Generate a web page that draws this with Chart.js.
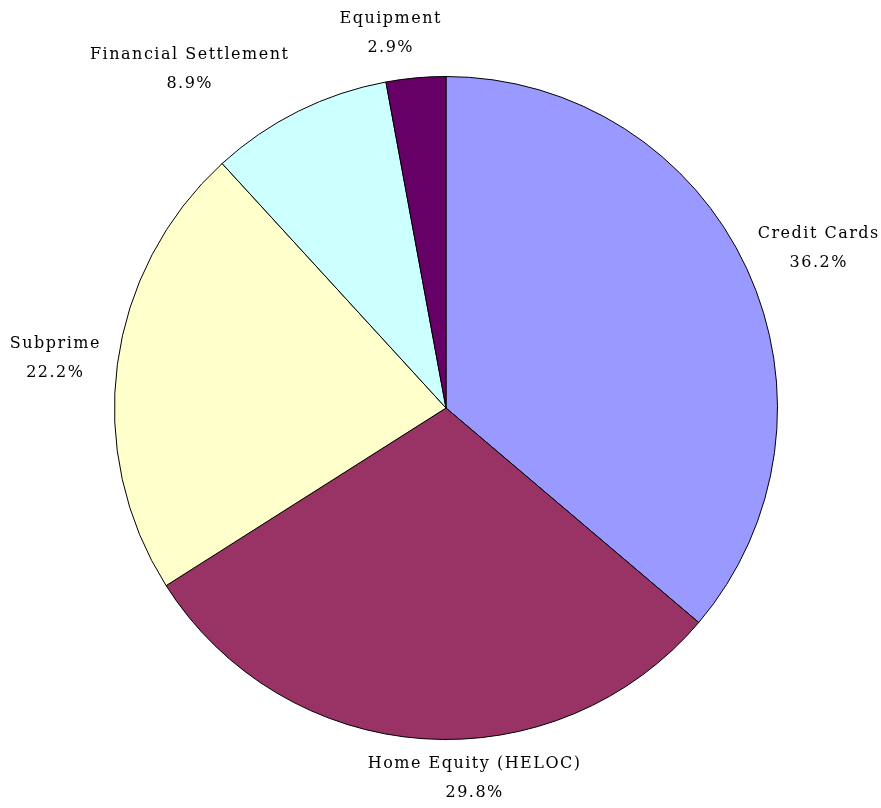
<!DOCTYPE html>
<html>
<head>
<meta charset="utf-8">
<script src="https://cdn.jsdelivr.net/npm/chart.js@4.4.0/dist/chart.umd.min.js"></script>
<style>
  html, body { margin: 0; padding: 0; background: #ffffff; }
  #wrap { width: 881px; height: 808px; position: relative; }
</style>
</head>
<body>
<div id="wrap"><canvas id="pie"></canvas></div>
<script>
// 数据
const categories = ['Credit Cards', 'Home Equity (HELOC)', 'Subprime', 'Financial Settlement', 'Equipment'];
const shares = [36.2, 29.8, 22.2, 8.9, 2.9];
const pctLabels = ['36.2%', '29.8%', '22.2%', '8.9%', '2.9%'];
const sliceColors = ['#9999FF', '#993366', '#FFFFCC', '#CCFFFF', '#660066'];

// 外侧标签 (名称 + 百分比)
const outsideLabels = {
  id: 'outsideLabels',
  afterDatasetsDraw(chart, args, opts) {
    const ctx = chart.ctx;
    const meta = chart.getDatasetMeta(0);
    const nudge = opts.nudge || [];
    ctx.save();
    ctx.font = '16px "DejaVu Serif", serif';
    ctx.letterSpacing = '1.5px';
    ctx.fillStyle = '#000000';
    ctx.textAlign = 'center';
    ctx.textBaseline = 'middle';
    const lineH = 29;
    meta.data.forEach((arc, i) => {
      const p = arc.getProps(['x', 'y', 'startAngle', 'endAngle', 'outerRadius'], true);
      const mid = (p.startAngle + p.endAngle) / 2;
      const dx = Math.cos(mid);
      const dy = Math.sin(mid);
      const r = p.outerRadius + 16;
      const ax = p.x + dx * r;
      const ay = p.y + dy * r;
      const w = Math.max(ctx.measureText(categories[i]).width, ctx.measureText(pctLabels[i]).width);
      const n = nudge[i] || [0, 0];
      const cx = ax + dx * w / 2 + n[0];
      const cy = ay + dy * lineH + n[1];
      ctx.fillText(categories[i], cx, cy - lineH / 2);
      ctx.fillText(pctLabels[i], cx, cy + lineH / 2);
    });
    ctx.restore();
  }
};

function renderChart() {
  const ctx = document.getElementById('pie').getContext('2d');
  new Chart(ctx, {
    type: 'pie',
    data: {
      labels: categories,
      datasets: [{
        data: shares,
        backgroundColor: sliceColors,
        borderColor: '#000000',
        borderWidth: 1
      }]
    },
    options: {
      responsive: true,
      maintainAspectRatio: false,
      animation: false,
      layout: { padding: { top: 76, bottom: 68, left: 114, right: 103 } },
      plugins: {
        legend: { display: false },
        tooltip: { enabled: false },
        outsideLabels: { nudge: [[2, -1], [60, -5], [-1, 0], [-57, -2], [-19, 0]] }
      }
    },
    plugins: [outsideLabels]
  });
}

window.addEventListener('load', renderChart);
</script>
</body>
</html>
